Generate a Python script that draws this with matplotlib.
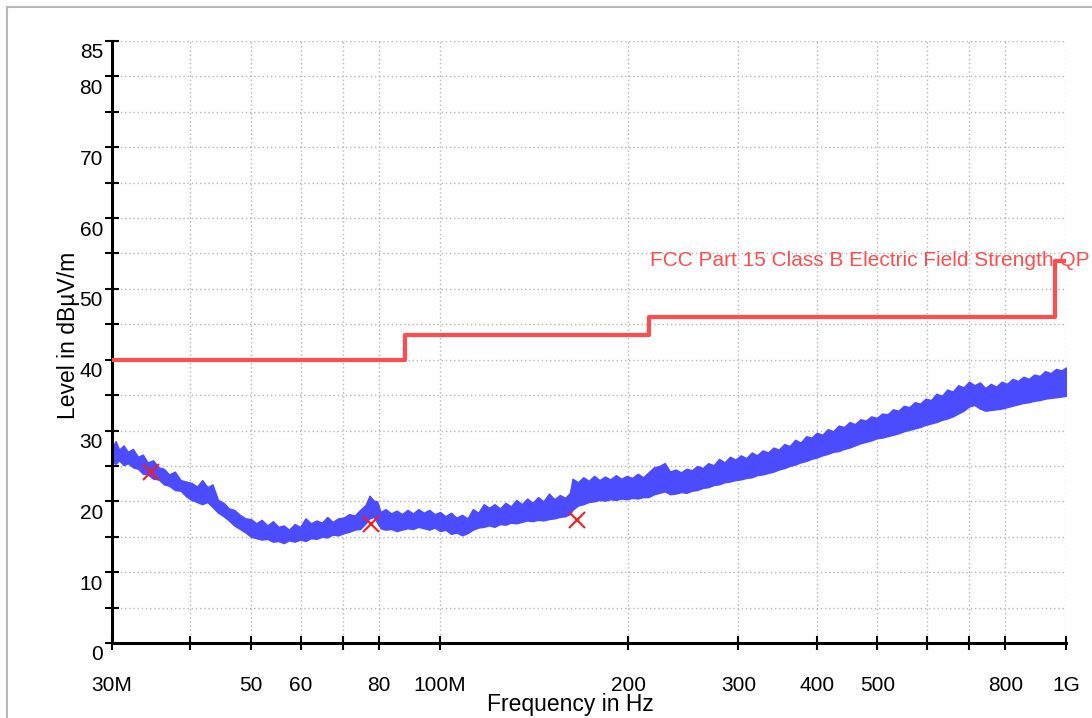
import numpy as np
import matplotlib
matplotlib.use("Agg")
import matplotlib.pyplot as plt
from matplotlib.patches import Rectangle
from matplotlib.ticker import NullLocator

plt.rcParams['font.family'] = ['Liberation Sans', 'DejaVu Sans']

trace_f = [30.0, 30.4, 30.8, 31.3, 31.8, 32.4, 33.0, 33.6, 34.2, 34.9, 35.6, 36.3, 37.0,
           37.8, 38.6, 39.4, 40.2, 41.0, 41.8, 42.6, 43.4, 44.3, 45.2, 46.1, 47.0, 48.0,
           49.0, 50.0, 51.0, 52.0, 53.1, 54.2, 55.3, 56.4, 57.5, 58.7, 59.9, 61.1, 62.3,
           63.6, 64.9, 66.2, 67.5, 68.9, 70.3, 71.7, 73.2, 74.7, 76.2, 77.3, 78.5, 79.5,
           80.5, 82.0, 83.7, 85.4, 87.1, 88.9, 90.7, 92.5, 94.4, 96.3, 98.2, 100.2, 102.2,
           104.3, 106.4, 108.6, 110.8, 113.0, 115.3, 117.6, 120.0, 122.4, 124.9, 127.4,
           130.0, 132.6, 135.3, 138.0, 140.8, 143.6, 146.5, 149.5, 152.5, 155.6, 158.7,
           161.5, 163.0, 166.3, 169.6, 173.0, 176.5, 180.0, 183.7, 187.4, 191.2, 195.0,
           199.0, 203.0, 207.1, 211.3, 215.5, 219.9, 224.3, 228.8, 233.4, 238.1, 242.9,
           247.8, 252.8, 257.9, 263.1, 268.4, 273.8, 279.4, 285.0, 290.8, 296.6, 302.6,
           308.7, 315.0, 321.3, 327.8, 334.4, 341.2, 348.0, 355.1, 362.2, 369.5, 377.0,
           384.6, 392.4, 400.3, 408.4, 416.6, 425.0, 433.6, 442.3, 451.3, 460.4, 469.7,
           479.1, 488.8, 498.7, 508.7, 519.0, 529.4, 540.1, 551.0, 562.1, 573.5, 585.0,
           596.8, 608.9, 621.1, 633.7, 646.4, 659.5, 672.8, 686.4, 700.2, 714.3, 728.7,
           743.4, 758.4, 773.7, 789.3, 805.3, 821.5, 838.1, 855.0, 872.2, 889.8, 907.8,
           926.1, 944.8, 963.8, 983.3, 1000.0]
trace_hi = [27.6, 28.5, 27.3, 27.9, 27.0, 27.4, 26.3, 26.6, 25.5, 25.8, 24.8, 24.6, 23.8,
            24.2, 23.0, 22.8, 22.6, 22.1, 23.0, 22.0, 22.4, 20.2, 19.8, 19.0, 18.8, 18.1,
            17.6, 17.5, 16.9, 17.4, 16.6, 17.2, 16.4, 16.6, 16.0, 16.8, 16.4, 17.6, 16.9,
            17.3, 17.0, 17.8, 17.1, 17.6, 17.7, 18.2, 18.0, 18.8, 19.5, 20.8, 20.1, 20.0,
            18.5, 18.9, 18.3, 18.7, 18.2, 18.8, 18.3, 18.9, 18.4, 18.8, 18.2, 18.5, 17.9,
            18.4, 17.7, 18.1, 17.6, 18.9, 18.4, 19.6, 19.1, 19.6, 19.0, 19.8,
            19.3, 20.2, 19.6, 20.4, 19.8, 20.6, 20.0, 21.1, 20.3, 20.9, 20.5,
            21.2, 23.2, 22.7, 23.4, 22.9, 23.6, 23.0, 23.5, 23.1, 23.7, 23.2,
            23.6, 23.3, 23.9, 23.4, 24.1, 24.8, 25.0, 25.4, 24.2, 24.5, 24.1,
            24.6, 24.4, 25.0, 24.7, 25.4, 25.1, 26.0, 25.5, 26.3, 25.9, 26.5,
            26.1, 26.9, 26.5, 27.2, 26.9, 27.6, 27.3, 28.1, 27.8, 28.7, 28.3,
            29.2, 29.0, 29.7, 29.4, 30.2, 29.9, 30.7, 30.5, 31.2, 30.9, 31.6,
            31.4, 32.0, 31.8, 32.4, 32.3, 33.0, 32.8, 33.5, 33.3, 34.0, 33.8,
            34.5, 34.3, 35.2, 34.9, 35.8, 35.5, 36.4, 36.1, 36.9, 36.4, 36.8,
            36.0, 36.6, 36.2, 36.9, 36.6, 37.3, 37.0, 37.6, 37.3, 37.9, 37.7,
            38.4, 38.1, 38.7, 38.5, 38.9]
trace_lo = [25.6, 25.3, 25.8, 25.1, 25.4, 24.8, 24.6, 23.9, 23.8, 23.2, 23.1, 22.4, 22.2,
            21.6, 21.5, 20.7, 20.2, 19.9, 19.6, 19.9, 19.2, 18.4, 17.9, 17.3, 16.6, 16.1,
            15.6, 15.0, 14.8, 14.6, 14.7, 14.3, 14.4, 14.1, 14.5, 14.3, 14.6, 14.4, 14.8,
            14.7, 15.0, 14.9, 15.3, 15.2, 15.5, 15.7, 16.0, 16.1, 16.9, 17.6, 17.8, 17.0,
            16.2, 16.0, 16.1, 15.8, 16.0, 16.2, 16.1, 16.4, 16.2, 16.0, 16.3, 15.8, 16.0,
            15.4, 15.6, 15.2, 15.5, 16.0, 16.3, 16.4, 16.6, 16.4, 16.8, 16.7,
            17.0, 16.9, 17.1, 17.3, 17.2, 17.4, 17.3, 17.5, 17.6, 17.8, 17.9,
            18.2, 18.8, 19.4, 19.6, 19.9, 20.0, 20.2, 20.1, 20.3, 20.2, 20.4,
            20.3, 20.5, 20.4, 20.6, 20.6, 21.0, 21.2, 21.4, 21.0, 21.1, 21.3,
            21.2, 21.5, 21.6, 21.9, 22.0, 22.3, 22.4, 22.7, 22.8, 23.0, 23.1,
            23.3, 23.4, 23.7, 23.8, 24.0, 24.2, 24.5, 24.7, 25.0, 25.2, 25.5,
            25.7, 26.0, 26.2, 26.5, 26.7, 27.0, 27.1, 27.4, 27.6, 27.9, 28.2,
            28.4, 28.6, 28.9, 29.0, 29.2, 29.4, 29.6, 29.9, 30.1, 30.3, 30.5,
            30.8, 31.0, 31.2, 31.5, 31.7, 32.0, 32.4, 32.8, 33.4, 33.6, 33.1,
            32.8, 32.9, 33.0, 33.1, 33.3, 33.5, 33.7, 33.9, 34.0, 34.2, 34.3,
            34.5, 34.6, 34.7, 34.8, 34.9]

# FCC limit (step)
limit_f = [30, 88, 216, 960, 1000]
limit_lvl = [40, 43.5, 46, 54, 54]
limit_name = "FCC Part 15 Class B Electric Field Strength QP"

# final measurement points
mark_f = [34.6, 77.8, 165.8]
mark_lvl = [24.2, 16.8, 17.4]

xtick_vals = [30, 40, 50, 60, 70, 80, 100, 200, 300, 400, 500, 600, 700, 800, 1000]
xtick_labels = ['30M', '', '50', '60', '', '80', '100M', '200', '300', '400', '500',
                '', '', '800', '1G']
ytick_vals = [0, 5, 10, 15, 20, 25, 30, 35, 40, 45, 50, 55, 60, 65, 70, 75, 80, 85]
ytick_labels = ['0', '', '10', '', '20', '', '30', '', '40', '', '50', '', '60', '',
                '70', '', '80', '85']

W, H = 1092, 718
fig = plt.figure(figsize=(W / 100, H / 100), dpi=100)
fig.patches.append(Rectangle((7 / W, -0.1), 1.2, 1 - 7 / H + 0.1, transform=fig.transFigure,
                             fill=False, edgecolor='#b8b8b8', lw=1.5))

ax = fig.add_axes([112 / W, 1 - 643 / H, (1066 - 112) / W, (643 - 41) / H])
ax.set_xscale('log')
ax.set_xlim(30, 1000)
ax.set_ylim(0, 85)

grid_kw = dict(color='#b4b4b4', lw=1.0, linestyle=(0, (1, 2)), zorder=0)
for v in xtick_vals:
    ax.axvline(v, **grid_kw)
for v in ytick_vals:
    ax.axhline(v, **grid_kw)

ax.fill_between(trace_f, trace_lo, trace_hi, color='#4b4bff', lw=1.0, zorder=2)
ax.step(limit_f, limit_lvl, where='post', color='#ff4d4d', lw=3, zorder=3)
ax.plot(mark_f, mark_lvl, 'x', color='#ff1a1a', ms=12, mew=1.5, zorder=4)
ax.annotate(limit_name, xy=(1000, 54), xytext=(24, 0), textcoords='offset pixels',
            ha='right', va='center', color='#ff4d4d', fontsize=15, annotation_clip=False)

for s in ['top', 'right']:
    ax.spines[s].set_visible(False)
for s in ['left', 'bottom']:
    ax.spines[s].set_linewidth(2.2)

ax.set_xticks(xtick_vals, labels=xtick_labels)
ax.xaxis.set_minor_locator(NullLocator())
ax.set_yticks(ytick_vals, labels=[''] * len(ytick_vals))
ax.tick_params(direction='inout', length=10, width=1.5, labelsize=15)
ax.tick_params(axis='x', pad=18.5)
for v, lab in zip(ytick_vals, ytick_labels):
    if lab:
        ax.annotate(lab, xy=(0, v), xycoords=('axes fraction', 'data'), xytext=(-9, -12),
                    textcoords='offset pixels', ha='right', va='center', fontsize=15,
                    annotation_clip=False)

fig.text(570 / W, 1 - 705 / H, 'Frequency in Hz', ha='center', va='center', fontsize=16.5)
fig.text(68 / W, 1 - 335 / H, 'Level in dBµV/m', ha='center', va='center', rotation=90,
         fontsize=16.5)

fig.savefig('out.png', dpi=100)
